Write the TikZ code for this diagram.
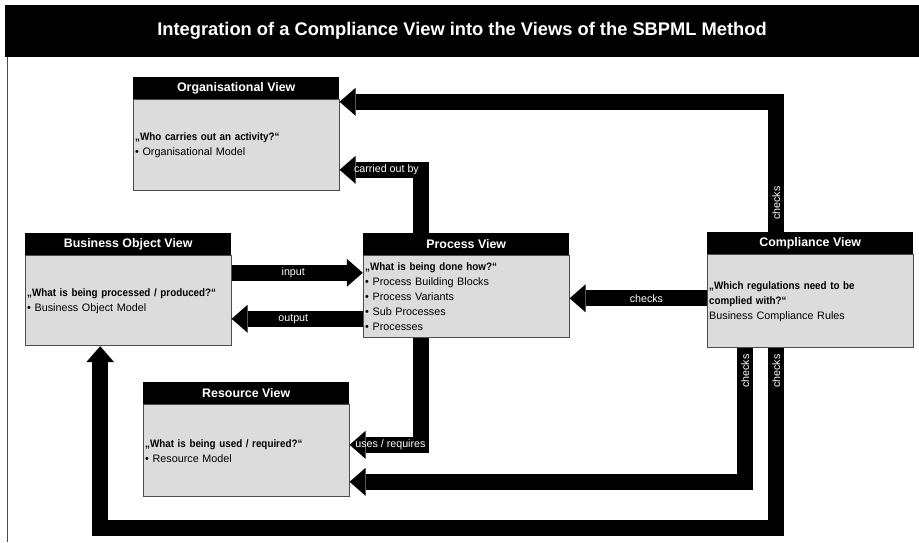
\documentclass[tikz,border=0pt]{standalone}
\usepackage{fontspec}
\setmainfont{Liberation Sans}
\newfontfamily\questionfont{Liberation Sans}[FakeStretch=0.91]
\usepackage{tikz}
\usetikzlibrary{positioning,arrows.meta}
\definecolor{viewgray}{HTML}{DCDCDC}
\colorlet{viewline}{black!70}
\newcommand{\question}[1]{{\questionfont\bfseries #1}}

\begin{document}
\begin{tikzpicture}[x=1pt, y=-1pt,
    viewhead/.style = {fill=black, text=white, font=\fontsize{12.4}{14}\selectfont\bfseries, minimum width=206pt, minimum height=22pt, inner sep=0pt, anchor=north west},
    viewbody/.style = {fill=viewgray, draw=viewline, line width=0.8pt, text width=202pt, inner xsep=2pt, inner ysep=2pt, align=left, font=\fontsize{10.8}{15}\selectfont},
    flow/.style = {line width=16pt, line join=miter, -{Triangle[width=28pt, length=16pt, line width=0pt]}},
    flowlabel/.style = {text=white, font=\fontsize{10.7}{12}\selectfont, inner sep=1pt}]
    \useasboundingbox (0,0) rectangle (919,542);

    \node[fill=black, text=white, minimum width=914pt, minimum height=52pt, inner sep=0pt, font=\fontsize{18.3}{20}\selectfont\bfseries] (title) at (462,31) {Integration of a Compliance View into the Views of the SBPML Method};
    \draw[viewline, line width=0.8pt] ([xshift=3pt]title.south west) -- ++(0,485);

    \node[viewhead] (orghead) at (133,77) {Organisational View};
    \node[viewbody, minimum height=91pt, below=0pt of orghead] (org) {\question{„Who carries out an activity?“}\\\textbullet\ Organisational Model};

    \node[viewhead] (bohead) at (25,233) {Business Object View};
    \node[viewbody, minimum height=90pt, below=0pt of bohead] (bo) {\question{„What is being processed / produced?“}\\\textbullet\ Business Object Model};

    \node[viewhead] (prochead) at (363,233) {Process View};
    \node[viewbody, minimum height=82pt, below=0pt of prochead] (proc) {\question{„What is being done how?“}\\\textbullet\ Process Building Blocks\\\textbullet\ Process Variants\\\textbullet\ Sub Processes\\\textbullet\ Processes};

    \node[viewhead] (comphead) at (707,232) {Compliance View};
    \node[viewbody, minimum height=93pt, below=0pt of comphead] (comp) {\question{„Which regulations need to be\\complied with?“}\\Business Compliance Rules};

    \node[viewhead] (reshead) at (143,382) {Resource View};
    \node[viewbody, minimum height=92pt, below=0pt of reshead] (res) {\question{„What is being used / required?“}\\\textbullet\ Resource Model};

    \draw[flow] ([xshift=-34pt]comphead.north) |- node[pos=0.111, rotate=90, flowlabel] {checks} ([yshift=43.5pt]org.east);
    \draw[flow] ([xshift=-45pt]prochead.north) |- node[pos=0.713, flowlabel] {carried out by} ([yshift=-24.5pt]org.east);
    \draw[flow] ([yshift=28pt]bo.east) -- node[pos=0.47, flowlabel] {input} ([yshift=28pt]bo.east -| proc.west);
    \draw[flow] ([yshift=-18pt]bo.east -| proc.west) -- node[pos=0.53, flowlabel] {output} ([yshift=-18pt]bo.east);
    \draw[flow] ([yshift=3pt]comp.west) -- node[pos=0.44, flowlabel] {checks} ([yshift=3pt]comp.west -| proc.east);
    \draw[flow] ([xshift=-45pt]proc.south) |- node[pos=0.715, flowlabel] {uses / requires} ([yshift=6pt]res.east);
    \draw[flow] ([xshift=-65pt]comp.south) |- node[pos=0.086, rotate=90, flowlabel] {checks} ([yshift=-31pt]res.east);
    \draw[flow] ([xshift=-34pt]comp.south) -- node[pos=0.128, rotate=90, flowlabel] {checks} ++(0,179.5) -| ([xshift=-28pt]bo.south);
\end{tikzpicture}
\end{document}
